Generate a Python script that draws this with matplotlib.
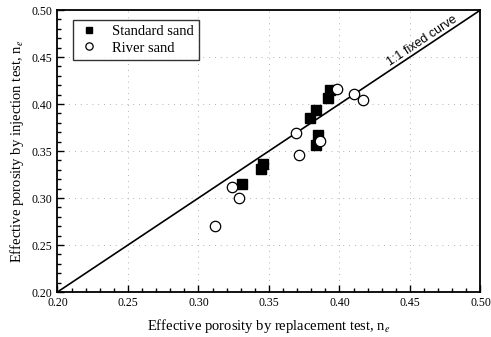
import matplotlib
matplotlib.use("Agg")
import matplotlib.pyplot as plt
from matplotlib.ticker import MultipleLocator

# Standard sand (replacement test, injection test)
std_x = [0.393, 0.392, 0.383, 0.379, 0.385, 0.383, 0.344, 0.346, 0.331]
std_y = [0.415, 0.406, 0.394, 0.385, 0.367, 0.356, 0.331, 0.336, 0.315]

# River sand
riv_x = [0.398, 0.410, 0.417, 0.369, 0.386, 0.371, 0.324, 0.329, 0.312]
riv_y = [0.416, 0.411, 0.404, 0.369, 0.361, 0.346, 0.312, 0.300, 0.270]

fixed_line = [0.20, 0.50]

plt.rcParams['font.family'] = ['Liberation Serif', 'DejaVu Serif']
plt.rcParams['mathtext.fontset'] = 'stix'

fig = plt.figure(figsize=(4.91, 3.37), dpi=100)
ax = fig.add_axes([0.117, 0.1335, 0.8616, 0.8368])

ax.plot(fixed_line, fixed_line, color="black", lw=1.2, zorder=2)
ax.plot(std_x, std_y, "s", color="black", ms=7, label="Standard sand", zorder=3)
ax.plot(riv_x, riv_y, "o", mfc="white", mec="black", mew=0.9, ms=7.5,
        label="River sand", zorder=4)

ax.text(0.459, 0.467, "1:1 fixed curve", rotation=33.7, ha="center", va="center",
        family=["Liberation Sans"], fontsize=9)

ax.set_xlim(0.2, 0.5)
ax.set_ylim(0.2, 0.5)
ax.xaxis.set_major_locator(MultipleLocator(0.05))
ax.yaxis.set_major_locator(MultipleLocator(0.05))
ax.xaxis.set_minor_locator(MultipleLocator(0.01))
ax.yaxis.set_minor_locator(MultipleLocator(0.01))
ax.xaxis.set_major_formatter(lambda v, p: f"{v:.2f}")
ax.yaxis.set_major_formatter(lambda v, p: f"{v:.2f}")
ax.tick_params(which="both", direction="in", labelsize=8.5, width=1)
ax.tick_params(which="major", length=5)
ax.tick_params(which="minor", length=3)

ax.grid(True, which="major", color="#999999", lw=0.6, linestyle=(0, (1, 6)))
for s in ax.spines.values():
    s.set_linewidth(1.3)

ax.set_xlabel("Effective porosity by replacement test, n$_e$", fontsize=10.5, labelpad=6)
ax.set_ylabel("Effective porosity by injection test, n$_e$", fontsize=10.5, labelpad=4)

leg = ax.legend(loc="upper left", bbox_to_anchor=(0.02, 0.99), fontsize=10.5,
                frameon=True, fancybox=False, edgecolor="black", handlelength=1.4,
                handletextpad=0.9, borderpad=0.35, labelspacing=0.2, markerscale=0.7)
leg.get_frame().set_linewidth(1.0)

fig.savefig("out.png", dpi=100)
